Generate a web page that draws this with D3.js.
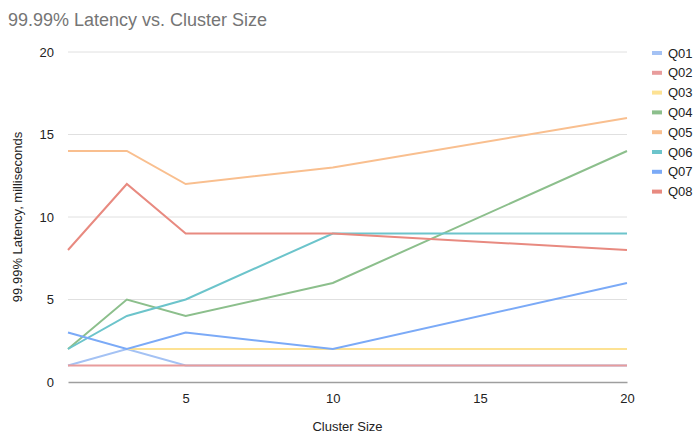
<!DOCTYPE html>
<html>
<head>
<meta charset="utf-8">
<script src="https://cdn.jsdelivr.net/npm/d3@7"></script>
<style>
  body { margin: 0; background: #fff; }
  text { font-family: "Liberation Sans", Arial, sans-serif; }
</style>
</head>
<body>
<div id="chart"></div>
<script>
// Data
const clusterSizes = [1, 3, 5, 10, 20];
const seriesNames = ['Q01', 'Q02', 'Q03', 'Q04', 'Q05', 'Q06', 'Q07', 'Q08'];
const q01 = [1, 2, 1, 1, 1];
const q02 = [1, 1, 1, 1, 1];
const q03 = [null, 2, 2, 2, 2];
const q04 = [2, 5, 4, 6, 14];
const q05 = [14, 14, 12, 13, 16];
const q06 = [2, 4, 5, 9, 9];
const q07 = [3, 2, 3, 2, 6];
const q08 = [8, 12, 9, 9, 8];
const seriesValues = [q01, q02, q03, q04, q05, q06, q07, q08];
const yTicks = [0, 5, 10, 15, 20];
const xTicks = [5, 10, 15, 20];
const colors = ['#a4c2f4', '#e89c9c', '#fde293', '#8cbf8c', '#f9bf8f', '#6cc4cb', '#7baaf7', '#e88a80'];

let width = 700, height = 441;
let margin = {top: 52, bottom: 59, left: 68, right: 73};

let svg = d3.select('#chart')
  .append('svg')
  .attr('width', width)
  .attr('height', height);

let xScale = d3.scaleLinear()
  .domain([1, 20])
  .range([margin.left, width - margin.right]);

let yScale = d3.scaleLinear()
  .domain([0, 20])
  .range([height - margin.bottom, margin.top]);

// title
svg.append('text')
  .attr('x', 8)
  .attr('y', 26)
  .text('99.99% Latency vs. Cluster Size')
  .style('font-size', '18px')
  .style('fill', '#757575');

// gridlines
svg.append('g')
  .selectAll('line')
  .data(yTicks.filter(d => d > 0))
  .enter()
  .append('line')
  .attr('x1', margin.left)
  .attr('x2', width - margin.right)
  .attr('y1', d => yScale(d))
  .attr('y2', d => yScale(d))
  .attr('stroke', '#e0e0e0')
  .attr('stroke-width', 1);

// y axis labels
let yAxis = svg.append('g')
  .attr('transform', `translate(${margin.left}, 0)`)
  .call(d3.axisLeft(yScale).tickValues(yTicks).tickSize(0).tickPadding(14));
yAxis.select('.domain').remove();
yAxis.selectAll('text')
  .style('font-size', '13px')
  .style('fill', '#222');

// x axis
let xAxis = svg.append('g')
  .attr('transform', `translate(0, ${height - margin.bottom})`)
  .call(d3.axisBottom(xScale).tickValues(xTicks).tickSize(0).tickPadding(12));
xAxis.select('.domain')
  .attr('stroke', '#9e9e9e')
  .attr('stroke-width', 1.5);
xAxis.selectAll('text')
  .style('font-size', '13px')
  .style('fill', '#222');

// axis titles
svg.append('text')
  .attr('x', (margin.left + width - margin.right) / 2)
  .attr('y', 431)
  .text('Cluster Size')
  .style('text-anchor', 'middle')
  .style('font-size', '13px')
  .style('fill', '#222');

svg.append('text')
  .attr('x', 0 - (margin.top + height - margin.bottom) / 2)
  .attr('y', 22)
  .text('99.99% Latency, milliseconds')
  .attr('transform', 'rotate(-90)')
  .style('text-anchor', 'middle')
  .style('font-size', '13px')
  .style('fill', '#222');

// lines
let line = d3.line()
  .defined(d => d.v !== null)
  .x(d => xScale(d.x))
  .y(d => yScale(d.v));

seriesValues.forEach((vals, i) => {
  let pts = clusterSizes.map((x, j) => ({x: x, v: vals[j]}));
  svg.append('path')
    .datum(pts)
    .attr('d', line)
    .attr('fill', 'none')
    .attr('stroke', colors[i])
    .attr('stroke-width', 2);
});

// legend
let legend = svg.append('g')
  .attr('transform', 'translate(652, 53)');

seriesNames.forEach((name, i) => {
  legend.append('rect')
    .attr('x', 0)
    .attr('y', i * 19.8 - 2)
    .attr('width', 10)
    .attr('height', 4)
    .attr('fill', colors[i]);
  legend.append('text')
    .attr('x', 16)
    .attr('y', i * 19.8)
    .attr('dy', '0.35em')
    .text(name)
    .style('font-size', '13px')
    .style('fill', '#222');
});
</script>
</body>
</html>
